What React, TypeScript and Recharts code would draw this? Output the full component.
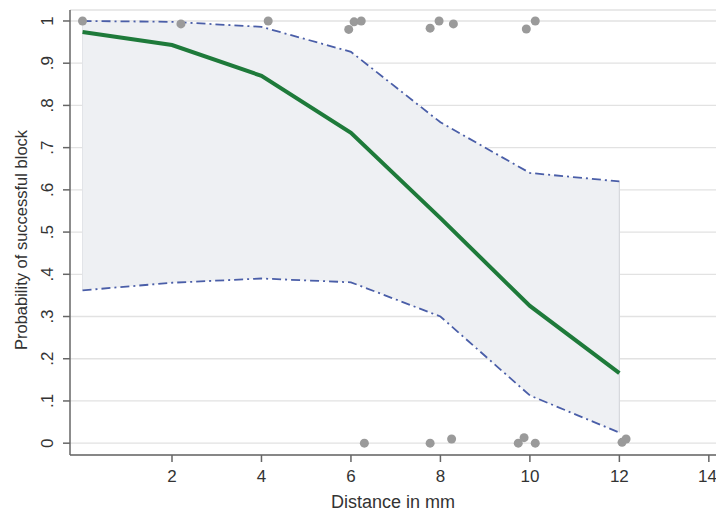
import React from 'react';
import {
  ComposedChart,
  Area,
  Line,
  Scatter,
  XAxis,
  YAxis,
  CartesianGrid,
  ReferenceLine,
} from 'recharts';

// fitted curve + confidence band
const distances = [0, 2, 4, 6, 8, 10, 12];
const fitted = [0.974, 0.943, 0.87, 0.735, 0.533, 0.325, 0.166];
const upperCI = [1.0, 0.998, 0.986, 0.927, 0.76, 0.64, 0.62];
const lowerCI = [0.362, 0.38, 0.39, 0.381, 0.3, 0.113, 0.025];

// jittered observations
const obsX = [0, 2.2, 4.15, 5.95, 6.07, 6.23, 7.77, 7.97, 8.29, 9.92, 10.12, 6.3, 7.77, 8.25, 9.74, 9.87, 10.12, 12.06, 12.15];
const obsY = [1.0, 0.993, 1.0, 0.98, 0.998, 1.0, 0.983, 1.0, 0.993, 0.981, 1.0, 0, 0, 0.01, 0, 0.013, 0, 0.002, 0.01];

const xTicks = [2, 4, 6, 8, 10, 12, 14];
const yTicks = [0, 0.1, 0.2, 0.3, 0.4, 0.5, 0.6, 0.7, 0.8, 0.9, 1];

const rows = distances.map((x, i) => ({
  x,
  fit: fitted[i],
  upper: upperCI[i],
  lower: lowerCI[i],
  band: [lowerCI[i], upperCI[i]],
}));

const dots = obsX.map((x, i) => ({ x, y: obsY[i] }));

const FONT = '"Liberation Sans", Arial, sans-serif';
const AXIS = '#666666';
const BLUE = '#4a5ea8';

const fmtY = (v: number) => {
  if (v === 0) return '0';
  if (v === 1) return '1';
  return '.' + Math.round(v * 10);
};

const YTick = ({ y, payload }: any) => (
  <text
    x={48}
    y={y}
    transform={`rotate(-90, 48, ${y})`}
    textAnchor="middle"
    dominantBaseline="central"
    fontSize={17}
    fill="#333"
    fontFamily={FONT}
  >
    {fmtY(payload.value)}
  </text>
);

const YTitle = () => (
  <text
    x={21}
    y={240}
    transform="rotate(-90, 21, 240)"
    textAnchor="middle"
    dominantBaseline="central"
    fontSize={16.5}
    fill="#333"
    fontFamily={FONT}
  >
    Probability of successful block
  </text>
);

const Dot = ({ cx, cy }: any) => <circle cx={cx} cy={cy} r={4.5} fill="#9a9a9a" />;

const last = distances.length - 1;

export default function App() {
  return (
    <div style={{ position: 'absolute', left: 0, top: 0, background: '#fff' }}>
      <ComposedChart
        width={716}
        height={511}
        data={rows}
        margin={{ top: 10, right: 0, left: 0, bottom: 0 }}
      >
        <CartesianGrid vertical={false} stroke="#e2e2e2" strokeWidth={1.3} />
        <XAxis
          dataKey="x"
          type="number"
          domain={[-0.28, 14.16]}
          allowDataOverflow
          ticks={xTicks}
          height={56}
          tickSize={7}
          tickMargin={8}
          stroke={AXIS}
          strokeWidth={1.5}
          tick={{ fill: '#333', fontSize: 17, fontFamily: FONT }}
          label={{
            value: 'Distance in mm',
            position: 'insideBottom',
            offset: 3,
            fill: '#333',
            fontSize: 18,
            fontFamily: FONT,
          }}
        />
        <YAxis
          type="number"
          domain={[-0.028, 1.026]}
          allowDataOverflow
          ticks={yTicks}
          width={70}
          tickSize={7}
          stroke={AXIS}
          strokeWidth={1.5}
          tick={<YTick />}
          label={<YTitle />}
        />
        <Area
          dataKey="band"
          type="linear"
          fill="#eef0f3"
          fillOpacity={1}
          stroke="none"
          isAnimationActive={false}
        />
        <ReferenceLine
          segment={[{ x: distances[last], y: lowerCI[last] }, { x: distances[last], y: upperCI[last] }]}
          stroke="#d6d8dc"
          strokeWidth={1.2}
        />
        <ReferenceLine
          segment={[{ x: distances[0], y: lowerCI[0] }, { x: distances[0], y: upperCI[0] }]}
          stroke="#e2e4e8"
          strokeWidth={1}
        />
        <Line
          dataKey="upper"
          type="linear"
          stroke={BLUE}
          strokeWidth={1.8}
          strokeDasharray="9 4 2 4"
          dot={false}
          isAnimationActive={false}
        />
        <Line
          dataKey="lower"
          type="linear"
          stroke={BLUE}
          strokeWidth={1.8}
          strokeDasharray="9 4 2 4"
          dot={false}
          isAnimationActive={false}
        />
        <Line
          dataKey="fit"
          type="linear"
          stroke="#1e7a3a"
          strokeWidth={4}
          dot={false}
          isAnimationActive={false}
        />
        <Scatter data={dots} dataKey="y" shape={<Dot />} isAnimationActive={false} />
      </ComposedChart>
    </div>
  );
}
